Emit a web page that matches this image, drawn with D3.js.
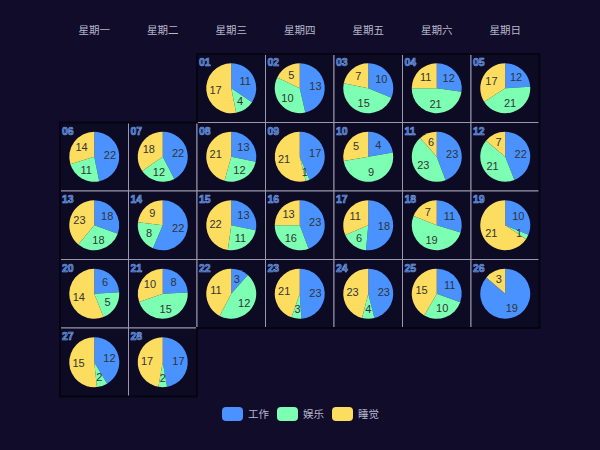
<!DOCTYPE html>
<html>
<head>
<meta charset="utf-8">
<title>calendar pie</title>
<script src="https://d3js.org/d3.v7.min.js"></script>
<style>
  html, body { margin: 0; padding: 0; background: #100c2a; }
  svg { display: block; font-family: "Liberation Sans", "Noto Sans CJK SC", sans-serif; }
</style>
</head>
<body>
<svg id="chart" width="600" height="450"></svg>
<script>
// Feb 2017, hours per day
const weekNames = ["星期一", "星期二", "星期三", "星期四", "星期五", "星期六", "星期日"];
const seriesNames = ["工作", "娱乐", "睡觉"];
const seriesColors = ["#4992ff", "#7cffb2", "#fddd60"];
const work  = [11, 13, 10, 12, 12, 22, 22, 13, 17, 4, 23, 22, 18, 22, 13, 23, 18, 11, 10, 6, 8, 3, 23, 23, 11, 19, 12, 17];
const play  = [4, 10, 15, 21, 21, 11, 12, 12, 1, 9, 23, 21, 18, 8, 11, 16, 6, 19, 1, 5, 15, 12, 3, 4, 10, 0, 2, 2];
const sleep = [17, 5, 7, 11, 17, 14, 18, 21, 21, 5, 6, 7, 23, 9, 22, 13, 11, 7, 21, 14, 10, 11, 21, 23, 15, 3, 15, 17];

const svg = d3.select("#chart");
const gridLeft = 60, gridTop = 54, cell = 68.5, weeks = 5;

const start = new Date(2017, 1, 1);
const days = d3.timeDays(start, new Date(2017, 2, 1));
const col = d => (d.getDay() + 6) % 7;
const row = d => d3.timeMonday.count(d3.timeMonday.floor(start), d);

const x = d3.scaleLinear().domain([0, 7]).range([gridLeft, gridLeft + 7 * cell]);
const y = d3.scaleLinear().domain([0, weeks]).range([gridTop, gridTop + weeks * cell]);

// week header
svg.append("g").selectAll("text")
  .data(weekNames)
  .join("text")
  .attr("x", (d, i) => x(i + 0.5))
  .attr("y", 34)
  .attr("text-anchor", "middle")
  .attr("font-size", 10.5)
  .attr("fill", "#b9b8ce")
  .text(d => d);

// cells
svg.append("g").selectAll("rect")
  .data(days)
  .join("rect")
  .attr("x", d => x(col(d)))
  .attr("y", d => y(row(d)))
  .attr("width", cell)
  .attr("height", cell)
  .attr("fill", "#0d0a23")
  .attr("stroke", "#9a98ac")
  .attr("stroke-width", 1);

// month outline
const last = days[days.length - 1];
const outline = [
  [x(col(start)), y(0)], [x(7), y(0)], [x(7), y(row(last))], [x(col(last) + 1), y(row(last))],
  [x(col(last) + 1), y(row(last) + 1)], [x(0), y(row(last) + 1)], [x(0), y(1)], [x(col(start)), y(1)]
];
svg.append("path")
  .attr("d", d3.line()(outline) + "Z")
  .attr("fill", "none")
  .attr("stroke", "#050410")
  .attr("stroke-width", 2);

// pies
const pie = d3.pie().sort(null).value(d => d);
const radius = 25;
const arc = d3.arc().innerRadius(0).outerRadius(radius);
const labelArc = d3.arc().innerRadius(radius * 0.63).outerRadius(radius * 0.63);

const dayG = svg.append("g").selectAll("g")
  .data(days)
  .join("g")
  .attr("transform", d => `translate(${x(col(d) + 0.5)},${y(row(d) + 0.5)})`);

dayG.each(function(d, i) {
  const g = d3.select(this);
  const arcs = pie([work[i], play[i], sleep[i]]);
  g.selectAll("path")
    .data(arcs)
    .join("path")
    .attr("d", arc)
    .attr("fill", (a, k) => seriesColors[k]);
  g.selectAll("text")
    .data(arcs.filter(a => a.value > 0))
    .join("text")
    .attr("transform", a => `translate(${labelArc.centroid(a)})`)
    .attr("text-anchor", "middle")
    .attr("dy", "0.35em")
    .attr("font-size", 11)
    .attr("fill", "#333")
    .text(a => a.value);
});

// day numbers
svg.append("g").selectAll("text")
  .data(days)
  .join("text")
  .attr("x", d => x(col(d)) + 2)
  .attr("y", d => y(row(d)) + 12)
  .attr("font-size", 10.5)
  .attr("font-weight", "bold")
  .attr("fill", "#2f5aa6")
  .attr("stroke", "#7aa3ea")
  .attr("stroke-width", 0.6)
  .text(d => d3.timeFormat("%d")(d));

// legend
const legendX = [222, 277, 332];
const lg = svg.append("g").selectAll("g")
  .data(seriesNames)
  .join("g")
  .attr("transform", (d, i) => `translate(${legendX[i]},407)`);
lg.append("rect")
  .attr("width", 21).attr("height", 14).attr("rx", 4)
  .attr("fill", (d, i) => seriesColors[i]);
lg.append("text")
  .attr("x", 26).attr("y", 11)
  .attr("font-size", 10.5)
  .attr("fill", "#b9b8ce")
  .text(d => d);
</script>
</body>
</html>
